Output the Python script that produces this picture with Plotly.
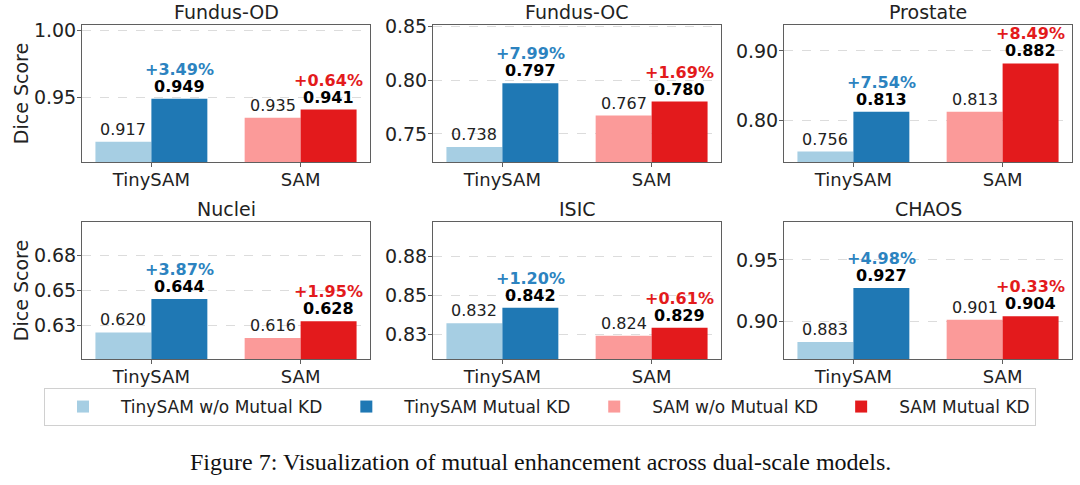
import plotly.graph_objects as go

# ---------------- data ----------------
datasets = ["Fundus-OD", "Fundus-OC", "Prostate", "Nuclei", "ISIC", "CHAOS"]
models = ["TinySAM", "SAM"]
series_names = ["TinySAM w/o Mutual KD", "TinySAM Mutual KD",
                "SAM w/o Mutual KD", "SAM Mutual KD"]
tinysam_wo = [0.917, 0.738, 0.756, 0.620, 0.832, 0.883]
tinysam_kd = [0.949, 0.797, 0.813, 0.644, 0.842, 0.927]
sam_wo = [0.935, 0.767, 0.813, 0.616, 0.824, 0.901]
sam_kd = [0.941, 0.780, 0.882, 0.628, 0.829, 0.904]
tinysam_gain = ["+3.49%", "+7.99%", "+7.54%", "+3.87%", "+1.20%", "+4.98%"]
sam_gain = ["+0.64%", "+1.69%", "+8.49%", "+1.95%", "+0.61%", "+0.33%"]
y_tickvals = [[0.95, 1.00], [0.75, 0.80, 0.85], [0.80, 0.90],
              [0.625, 0.650, 0.675], [0.825, 0.850, 0.875], [0.90, 0.95]]
y_ticktext = [["0.95", "1.00"], ["0.75", "0.80", "0.85"], ["0.80", "0.90"],
              ["0.63", "0.65", "0.68"], ["0.83", "0.85", "0.88"], ["0.90", "0.95"]]
caption = "Figure 7: Visualization of mutual enhancement across dual-scale models."

# ---------------- style / layout ----------------
W, H = 1080, 485
colors = ["#a6cee3", "#1f78b4", "#fb9a99", "#e31a1c"]
gain_colors = ["#2c83c0", "#e31a1c"]
y_ranges = [[0.902, 1.004], [0.724, 0.851], [0.741, 0.937],
            [0.601, 0.699], [0.809, 0.897], [0.869, 0.981]]
x_dom_px = [(82, 370), (433, 721), (784, 1072)]
y_dom_px = [(25, 162), (222, 359)]
BARGAP = 0.25
FONT = "DejaVu Sans"
SPINE = "#5f5f5f"

fig = go.Figure()
annotations = []
bar_off = (1 - BARGAP) / 4.0

for k, dname in enumerate(datasets):
    r, c = divmod(k, 3)
    suf = "" if k == 0 else str(k + 1)
    xr, yr = "x" + suf, "y" + suf
    vals = [tinysam_wo[k], tinysam_kd[k], sam_wo[k], sam_kd[k]]
    cats = [models[0], models[0], models[1], models[1]]
    for s in range(4):
        fig.add_trace(go.Bar(
            x=[cats[s]], y=[vals[s]], name=series_names[s],
            marker=dict(color=colors[s], line=dict(width=0)),
            offsetgroup=str(s % 2), legendgroup=series_names[s],
            showlegend=(k == 0), xaxis=xr, yaxis=yr,
        ))
    x0, x1 = x_dom_px[c]
    y0, y1 = y_dom_px[r]
    fig.layout["xaxis" + suf] = dict(
        domain=[x0 / W, x1 / W], anchor=yr, type="category",
        categoryorder="array", categoryarray=models,
        range=[-0.465, 1.465], showline=True, mirror=True, linecolor=SPINE,
        linewidth=1, ticks="outside", ticklen=4, tickcolor=SPINE,
        tickfont=dict(size=18, color="#222"), showgrid=False, fixedrange=True,
        automargin=False, ticklabelstandoff=-3,
    )
    yax = dict(
        domain=[1 - y1 / H, 1 - y0 / H], anchor=xr, range=y_ranges[k],
        tickvals=y_tickvals[k], ticktext=y_ticktext[k],
        showgrid=True, gridcolor="#dcdcdc", griddash="dash", gridwidth=1,
        showline=True, mirror=True, linecolor=SPINE, linewidth=1,
        ticks="outside", ticklen=4, tickcolor=SPINE, zeroline=False,
        tickfont=dict(size=19, color="#222"), fixedrange=True,
        automargin=False, ticklabelstandoff=-3,
    )
    if c == 0:
        yax["title"] = dict(text="Dice Score", font=dict(size=19, color="#222"), standoff=0)
    fig.layout["yaxis" + suf] = yax

    # subplot title
    annotations.append(dict(
        text=dname, xref="paper", yref="paper", x=(x0 + x1) / 2 / W, y=1 - y0 / H,
        xanchor="center", yanchor="bottom", yshift=0, showarrow=False,
        font=dict(size=19, color="#222"),
    ))
    # value labels
    for m in range(2):
        wo_v, kd_v = vals[2 * m], vals[2 * m + 1]
        gain = [tinysam_gain, sam_gain][m][k]
        annotations.append(dict(
            text=f"{wo_v:.3f}", xref=xr, yref=yr, x=m - bar_off, y=wo_v,
            xanchor="center", yanchor="bottom", yshift=1, showarrow=False,
            font=dict(size=16, color="#222"),
        ))
        annotations.append(dict(
            text=f"<b>{kd_v:.3f}</b>", xref=xr, yref=yr, x=m + bar_off, y=kd_v,
            xanchor="center", yanchor="bottom", yshift=1, showarrow=False,
            font=dict(size=16, color="#000"),
        ))
        annotations.append(dict(
            text=f"<b>{gain}</b>", xref=xr, yref=yr, x=m + bar_off, y=kd_v,
            xanchor="center", yanchor="bottom", yshift=18, showarrow=False,
            font=dict(size=16, color=gain_colors[m]),
        ))

annotations.append(dict(
    text=caption, xref="paper", yref="paper", x=0.5, y=1 - 477 / H,
    xanchor="center", yanchor="bottom", showarrow=False,
    font=dict(family="Liberation Serif", size=24, color="#111"),
))

fig.update_layout(
    width=W, height=H, margin=dict(l=0, r=0, t=0, b=0, autoexpand=False),
    paper_bgcolor="white", plot_bgcolor="white",
    font=dict(family=FONT, size=16, color="#222"),
    barmode="group", bargap=BARGAP, bargroupgap=0,
    annotations=annotations,
    legend=dict(
        orientation="h", x=0.5, xanchor="center", y=1 - 388 / H, yanchor="top",
        font=dict(size=17, color="#222"), bgcolor="white",
        bordercolor="#d0d0d0", borderwidth=1, itemwidth=66,
        traceorder="normal",
    ),
    showlegend=True,
)

fig.write_html("out.html", config={"displayModeBar": False},
               post_script="document.body.style.margin='0px';")
